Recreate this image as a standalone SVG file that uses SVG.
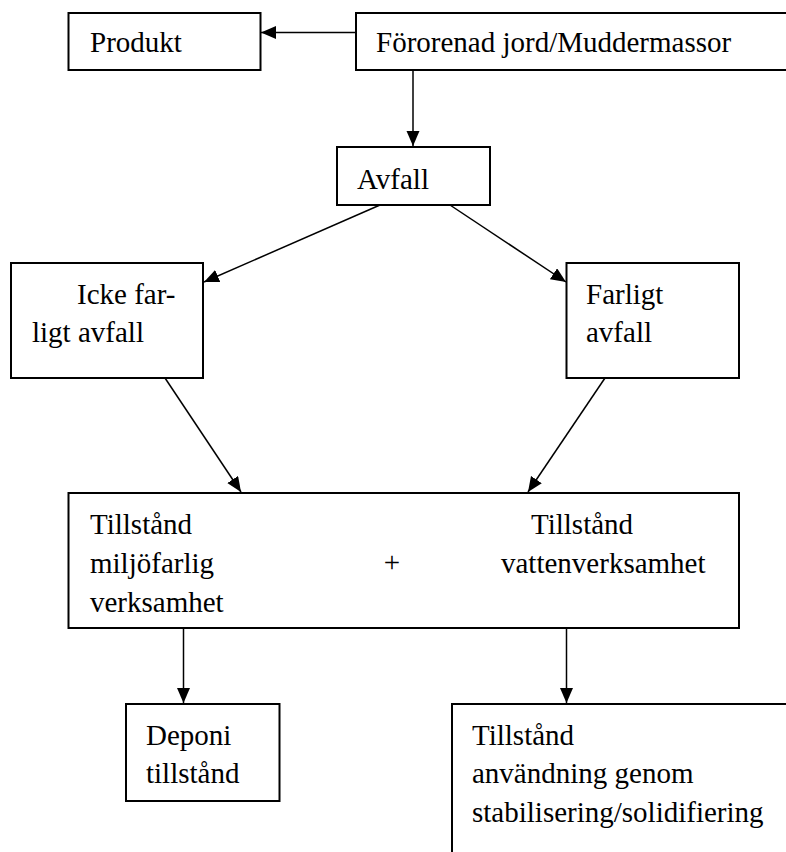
<svg xmlns="http://www.w3.org/2000/svg" width="786" height="852" viewBox="0 0 786 852">
<defs>
<marker id="ah" markerUnits="userSpaceOnUse" markerWidth="16" markerHeight="14" refX="15" refY="6.5" orient="auto">
<path d="M0,0 L15,6.5 L0,13 Z" fill="#000"/>
</marker>
<style>
.box{fill:#fff;stroke:#000;stroke-width:2}
.t{font-family:"Liberation Serif","Times New Roman",serif;font-size:29px;fill:#000}
.c{stroke:#000;stroke-width:1.5;fill:none;marker-end:url(#ah)}
</style>
</defs>
<rect width="786" height="852" fill="#fff"/>
<g id="produkt"><rect class="box" x="68.5" y="13" width="192" height="57"/><text class="t" x="90" y="52">Produkt</text></g>
<g id="fororenad"><rect class="box" x="356" y="13" width="450" height="57"/><text class="t" x="376" y="52">Förorenad jord/Muddermassor</text></g>
<g id="avfall"><rect class="box" x="337" y="147" width="153" height="58"/><text class="t" x="357" y="189">Avfall</text></g>
<g id="icke"><rect class="box" x="11" y="263" width="192" height="115"/><text class="t" x="77" y="304">Icke far-</text><text class="t" x="32" y="342">ligt avfall</text></g>
<g id="farligt"><rect class="box" x="566.5" y="263" width="172.5" height="115"/><text class="t" x="586" y="304">Farligt</text><text class="t" x="586" y="342">avfall</text></g>
<g id="tillstand"><rect class="box" x="68.5" y="493" width="670.5" height="135"/>
<text class="t" x="90" y="534">Tillstånd</text><text class="t" x="90" y="573">miljöfarlig</text><text class="t" x="90" y="612">verksamhet</text>
<text class="t" x="392" y="572" text-anchor="middle">+</text>
<text class="t" x="531" y="534">Tillstånd</text><text class="t" x="501" y="573">vattenverksamhet</text></g>
<g id="deponi"><rect class="box" x="126" y="704" width="153.5" height="97"/><text class="t" x="146" y="745">Deponi</text><text class="t" x="146" y="783">tillstånd</text></g>
<g id="anvandning"><rect class="box" x="452" y="704" width="360" height="170"/><text class="t" x="472" y="745">Tillstånd</text><text class="t" x="472" y="783">användning genom</text><text class="t" x="472" y="822">stabilisering/solidifiering</text></g>
<g id="connectors">
<line class="c" x1="356" y1="32.5" x2="261" y2="32.5"/>
<line class="c" x1="413" y1="70" x2="413" y2="146"/>
<line class="c" x1="380" y1="205" x2="204" y2="282"/>
<line class="c" x1="450" y1="205" x2="566" y2="282"/>
<line class="c" x1="165" y1="378" x2="241" y2="492"/>
<line class="c" x1="605" y1="378" x2="528" y2="492"/>
<line class="c" x1="183.5" y1="628" x2="183.5" y2="703"/>
<line class="c" x1="566.5" y1="628" x2="566.5" y2="703"/>
</g>
</svg>
